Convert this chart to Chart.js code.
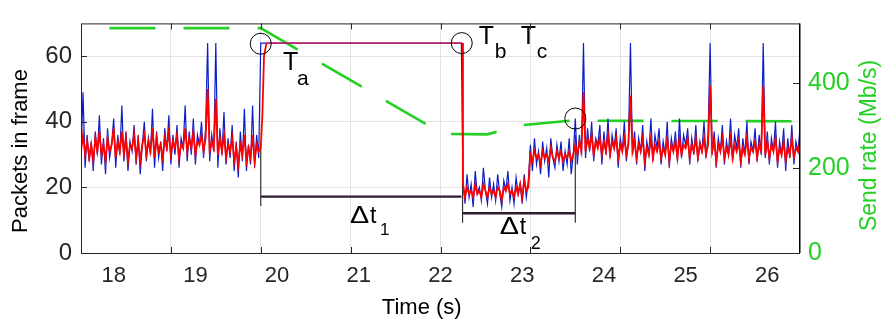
<!DOCTYPE html>
<html lang="en">
<head>
<meta charset="utf-8" />
<title>Packets in frame</title>
<script src="https://cdn.jsdelivr.net/npm/chart.js@4.4.0/dist/chart.umd.min.js"></script>
<style>
  body { margin: 0; background: #fff; }
  #wrap { width: 881px; height: 325px; }
</style>
</head>
<body>
<div id="wrap"><canvas id="myChart"></canvas></div>
<script>
// tick labels / grid positions
var timeTicks = [18, 19, 20, 21, 22, 23, 24, 25, 26];
var gridTimes = [18.7, 19.8, 20.9, 22.0, 23.1, 24.2, 25.3];
var packetTicks = [0, 20, 40, 60];
var rateTicks = [0, 200, 400];

// noisy segments are sampled every 25 ms
var sampleStep = 0.025;
var startA = 17.6, startC = 22.275, startD = 23.1, startE = 23.65;

// packets in frame, raw (blue)
var blueA = [30,49,26,36,28,34,25,37,30,42,27,35,24,38,29,33,41,26,36,30,45,28,37,25,34,31,39,27,36,24,
             33,40,28,35,30,44,26,37,29,34,25,38,31,42,27,36,30,39,26,35,32,45,28,37,30,41,27,36,33,40,
             29,38,64,28,36,31,64,26,38,30,43,27,35,29,39,25,34,23,37,28,44,25,33,27,45,26,36,29];
var blueC = [22,15,24,17,21,14,25,18,20,16,26,19,15,23,17,21,16,24,18,14,22,19,25,16,20,15,23,18,21,15,24,17,22];
var blueD = [33,25,35,27,31,24,34,28,32,23,35,29,26,33,28,34,25,31,27,35,24,30];
var blueE = [41,27,36,30,64,29,38,31,40,28,35,33,39,27,37,30,41,29,36,32,38,26,35,31,40,28,34,64,30,37,
             27,35,31,39,25,34,30,41,28,36,32,38,27,34,30,40,26,35,31,37,28,41,29,36,33,38,27,35,30,39,
             28,34,31,40,29,36,64,30,37,26,35,31,39,27,34,30,41,28,36,32,38,26,35,30,40,27,34,31,38,28,
             36,30,64,29,37,27,35,31,40,26,34,30,38,25,35,29,39,27,34,31,38];

// packets in frame, smoothed (red)
var redA = [31,36,30,34,29,33,28,35,31,37,30,33,28,35,31,33,38,29,34,31,37,30,35,28,33,32,36,29,34,28,
            33,36,30,34,31,38,29,35,31,33,29,35,32,37,30,34,32,36,29,33,32,38,31,35,32,37,30,34,33,36,
            31,35,50,31,34,32,47,30,35,31,36,29,33,31,35,28,32,27,33,30,36,28,32,29,36,28,33,31];
var redC = [21,17,20,18,19,17,21,18,19,17,21,19,17,20,18,19,17,20,19,16,20,19,21,18,19,17,20,18,21,17,22,19,20];
var redD = [30,28,31,29,30,27,31,29,30,28,32,29,28,31,29,31,28,30,29,31,28,30];
var redE = [33,30,34,31,49,31,35,32,36,30,34,32,35,30,34,31,36,30,34,32,35,29,33,31,35,30,33,48,31,34,
            29,33,31,35,28,32,30,35,29,33,31,34,29,32,30,35,28,33,31,34,29,35,30,33,32,35,29,33,31,35,
            29,33,31,35,30,33,51,31,34,28,33,31,35,29,32,30,35,29,33,31,34,28,32,30,35,29,32,31,34,29,
            33,31,51,30,34,29,33,31,35,28,32,30,34,28,32,30,35,29,32,31,34];

// full-frame plateau between Ta and Tb
var plateauTimesBlue = [19.8, 22.255];
var plateauBlue = [64, 64];
var plateauTimesRed = [19.8, 19.82, 19.84, 19.87, 22.27];
var plateauRed = [32, 42, 60, 64, 64];

// send rate (Mb/s, green)
var rateTimes = [17.6, 19.8, 22.03, 22.57, 22.69, 23.02, 23.58, 26.4];
var rateValues = [529, 529, 280, 279, 285, 301, 311, 310];

// event markers (time, packets)
var circleMarks = [[19.8, 63.8], [22.26, 64], [23.65, 41]];
var deltaLines = [
  [[19.8, 14.3], [19.8, 33]],
  [[19.8, 17.2], [22.255, 17.2]],
  [[22.27, 9.2], [22.27, 30]],
  [[22.27, 12.1], [23.65, 12.1]],
  [[23.65, 9.2], [23.65, 36]]
];

function seg(start, vals) {
  return vals.map(function (v, i) { return { x: start + i * sampleStep, y: v }; });
}
function pts(ts, vs) {
  return ts.map(function (t, i) { return { x: t, y: vs[i] }; });
}

var blueData = seg(startA, blueA).concat(pts(plateauTimesBlue, plateauBlue), seg(startC, blueC), seg(startD, blueD), seg(startE, blueE));
var redData = seg(startA, redA).concat(pts(plateauTimesRed, plateauRed), seg(startC, redC), seg(startD, redD), seg(startE, redE));

var fontName = '"Liberation Sans", Arial, Helvetica, sans-serif';
var green = '#24d024';

var datasets = [
  {
    data: redData, borderColor: '#ff0000', borderWidth: 1.8, order: 0, yAxisID: 'y',
    segment: {
      // red sits on the blue plateau, the mix reads as magenta
      borderColor: function (c) { return (c.p0.parsed.y === 64 && c.p1.parsed.y === 64) ? 'rgba(225,20,70,0.75)' : undefined; }
    }
  },
  { data: blueData, borderColor: '#0a1ec8', borderWidth: 1.2, order: 1, yAxisID: 'y' },
  { data: pts(rateTimes, rateValues), borderColor: green, borderWidth: 2.6, borderDash: [46, 28], borderDashOffset: 45.5, order: 2, yAxisID: 'y2' }
];
deltaLines.forEach(function (l) {
  var flat = l[0][1] === l[1][1];
  datasets.push({
    data: l.map(function (p) { return { x: p[0], y: p[1] }; }),
    borderColor: flat ? '#2e1a30' : '#333333',
    borderWidth: flat ? 2.4 : 1.2,
    order: 3, yAxisID: 'y'
  });
});

// T_a, T_b, T_c and delta t labels: [time, packets, pieces [text, dx, dy, size, xstretch]]
var textMarks = [
  [20.071, 55.9, [['T', 0, 0, 25, 1], ['a', 14, 15, 21, 1]]],
  [22.469, 63.6, [['T', 0, 0, 25, 1], ['b', 16, 14, 21, 1]]],
  [22.983, 63.6, [['T', 0, 0, 25, 1], ['c', 16, 14, 21, 1]]],
  [20.891, 9.24, [['\u0394', 0, 0, 23, 1.25], ['t', 20, 0, 23, 1], ['1', 30, 12.5, 17, 1]]],
  [22.726, 5.81, [['\u0394', 0, 0, 23, 1.25], ['t', 20, 0, 23, 1], ['2', 31, 15, 18, 1]]]
];

var overlay = {
  id: 'overlay',
  afterDatasetsDraw: function (chart) {
    var ctx = chart.ctx, xs = chart.scales.x, ys = chart.scales.y;
    ctx.save();
    ctx.strokeStyle = '#000';
    ctx.lineWidth = 1;
    circleMarks.forEach(function (c) {
      ctx.beginPath();
      ctx.arc(xs.getPixelForValue(c[0]), ys.getPixelForValue(c[1]), 10.5, 0, 2 * Math.PI);
      ctx.stroke();
    });
    ctx.fillStyle = '#000';
    ctx.textBaseline = 'alphabetic';
    ctx.textAlign = 'left';
    textMarks.forEach(function (m) {
      var px = xs.getPixelForValue(m[0]), py = ys.getPixelForValue(m[1]);
      m[2].forEach(function (p) {
        ctx.save();
        ctx.font = p[3] + 'px ' + fontName;
        ctx.translate(px + p[1], py + p[2]);
        ctx.scale(p[4], 1);
        ctx.fillText(p[0], 0, 0);
        ctx.restore();
      });
    });
    ctx.restore();
  },
  afterDraw: function (chart) {
    var ctx = chart.ctx, a = chart.chartArea;
    var xs = chart.scales.x, ys = chart.scales.y, y2 = chart.scales.y2;
    ctx.save();
    // inward tick marks
    ctx.strokeStyle = '#262626';
    ctx.lineWidth = 1;
    ctx.beginPath();
    gridTimes.forEach(function (t) {
      var px = Math.round(xs.getPixelForValue(t)) + 0.5;
      ctx.moveTo(px, a.bottom); ctx.lineTo(px, a.bottom - 6);
      ctx.moveTo(px, a.top); ctx.lineTo(px, a.top + 6);
    });
    packetTicks.forEach(function (v) {
      var py = Math.round(ys.getPixelForValue(v)) + 0.5;
      ctx.moveTo(a.left, py); ctx.lineTo(a.left + 6, py);
    });
    rateTicks.forEach(function (v) {
      var py = Math.round(y2.getPixelForValue(v)) + 0.5;
      ctx.moveTo(a.right, py); ctx.lineTo(a.right - 7, py);
    });
    ctx.stroke();
    // box
    ctx.strokeStyle = '#262626';
    ctx.strokeRect(a.left + 0.5, a.top + 0.5, a.right - a.left - 1, a.bottom - a.top);
    ctx.strokeStyle = '#000';
    ctx.lineWidth = 1.5;
    ctx.beginPath();
    ctx.moveTo(a.right - 0.25, a.top); ctx.lineTo(a.right - 0.25, a.bottom);
    ctx.stroke();
    // axis titles
    ctx.textAlign = 'center';
    ctx.textBaseline = 'middle';
    ctx.fillStyle = '#000';
    ctx.font = '22px ' + fontName;
    ctx.fillText('Time (s)', xs.getPixelForValue(21.77), a.bottom + 55);
    ctx.save();
    ctx.translate(21, ys.getPixelForValue(31.1));
    ctx.rotate(-Math.PI / 2);
    ctx.fillText('Packets in frame', 0, 0);
    ctx.restore();
    ctx.save();
    ctx.translate(a.right + 70, y2.getPixelForValue(253));
    ctx.rotate(-Math.PI / 2);
    ctx.fillStyle = green;
    ctx.font = '23px ' + fontName;
    ctx.fillText('Send rate (Mb/s)', 0, 0);
    ctx.restore();
    ctx.restore();
  }
};

var ctx = document.getElementById('myChart');
var myChart = new Chart(ctx, {
  type: 'line',
  data: { datasets: datasets },
  options: {
    responsive: true,
    maintainAspectRatio: false,
    animation: false,
    normalized: true,
    layout: { padding: { top: 8, left: 0, right: 0, bottom: 0 } },
    elements: { point: { radius: 0 }, line: { tension: 0, fill: false } },
    plugins: { legend: { display: false }, tooltip: { enabled: false } },
    scales: {
      x: {
        type: 'linear', position: 'bottom', min: 17.6, max: 26.4,
        afterBuildTicks: function (axis) { axis.ticks = gridTimes.map(function (v) { return { value: v }; }); },
        afterFit: function (axis) { axis.height = 0; },
        ticks: { display: false },
        grid: { color: '#e3e3e3', drawTicks: false },
        border: { display: false }
      },
      xl: {
        type: 'linear', position: 'bottom', min: 17.6, max: 26.4,
        afterBuildTicks: function (axis) { axis.ticks = timeTicks.map(function (v) { return { value: v }; }); },
        afterFit: function (axis) { axis.height = 72; },
        ticks: { color: '#262626', font: { family: fontName, size: 22 }, padding: 10, maxRotation: 0 },
        grid: { display: false, drawTicks: false },
        border: { display: false }
      },
      y: {
        position: 'left', min: 0, max: 70,
        afterBuildTicks: function (axis) { axis.ticks = packetTicks.map(function (v) { return { value: v }; }); },
        afterFit: function (axis) { axis.width = 81; },
        ticks: { color: '#262626', font: { family: fontName, size: 24 }, padding: 9 },
        grid: { color: '#e3e3e3', drawTicks: false },
        border: { display: false }
      },
      y2: {
        position: 'right', min: 0, max: 540,
        afterBuildTicks: function (axis) { axis.ticks = rateTicks.map(function (v) { return { value: v }; }); },
        afterFit: function (axis) { axis.width = 81; },
        ticks: { color: green, font: { family: fontName, size: 25 }, padding: 8 },
        grid: { display: false, drawTicks: false },
        border: { display: false }
      }
    }
  },
  plugins: [overlay]
});
</script>
</body>
</html>
